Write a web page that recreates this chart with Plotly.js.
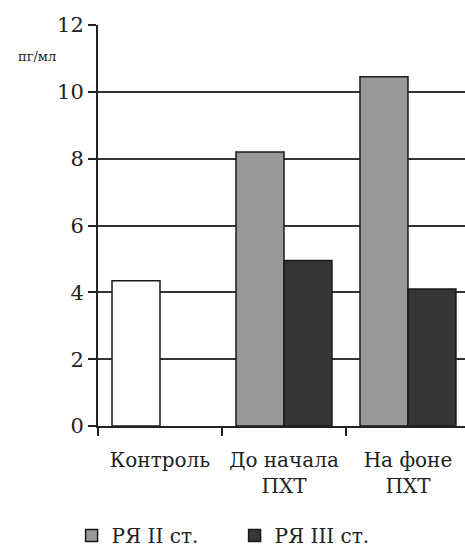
<!DOCTYPE html>
<html><head><meta charset="utf-8">
<script src="https://cdn.plot.ly/plotly-3.0.1.min.js"></script>
<style>html,body{margin:0;padding:0;background:#fff}#c{width:465px;height:555px}</style>
</head><body><div id="c"></div>
<script>
const categories = ['Контроль', 'До начала<br>ПХТ', 'На фоне<br>ПХТ'];
const controlCategory = ['Контроль'];
const controlValue = [4.35];
const stageCategories = ['До начала<br>ПХТ', 'На фоне<br>ПХТ'];
const stage2Values = [8.2, 10.45];
const stage3Values = [4.95, 4.1];
const seriesNames = ['РЯ II ст.', 'РЯ III ст.'];
const yTicks = [0, 2, 4, 6, 8, 10, 12];
const unitLabel = 'пг/мл';

const font = 'DejaVu Serif';
const line = {color: '#1a1a1a', width: 1.5};
const traces = [
  {type: 'bar', x: controlCategory, y: controlValue, offsetgroup: 'a', showlegend: false,
   marker: {color: '#ffffff', line: line}, hoverinfo: 'y'},
  {type: 'bar', name: seriesNames[0], x: stageCategories, y: stage2Values, offsetgroup: 'a',
   marker: {color: '#999999', line: line}},
  {type: 'bar', name: seriesNames[1], x: stageCategories, y: stage3Values, offsetgroup: 'b',
   marker: {color: '#363636', line: line}}
];
const layout = {
  width: 465, height: 555,
  margin: {l: 98, r: 0, t: 25, b: 128},
  paper_bgcolor: '#fff', plot_bgcolor: '#fff',
  font: {family: font, size: 20, color: '#222'},
  barmode: 'group', bargap: 0.226, bargroupgap: 0,
  xaxis: {type: 'category', categoryorder: 'array', categoryarray: categories,
    range: [-0.5, 2.46], tickson: 'boundaries', ticks: 'outside', ticklen: 8, tickwidth: 2,
    tickcolor: '#222', showline: true, linecolor: '#222', linewidth: 2, showgrid: false,
    ticklabelstandoff: 15,
    tickfont: {family: font, size: 20, color: '#222'}},
  yaxis: {range: [0, 12], tickvals: yTicks, ticks: 'outside', ticklen: 8, tickwidth: 2,
    tickcolor: '#222', showline: true, linecolor: '#222', linewidth: 2,
    showgrid: true, gridcolor: '#333', gridwidth: 2, zeroline: false,
    tickfont: {family: font, size: 21, color: '#222'}},
  legend: {orientation: 'h', x: -0.072, xanchor: 'left', y: -0.274, yanchor: 'middle',
    entrywidth: 118, entrywidthmode: 'pixels', itemwidth: 30,
    font: {family: font, size: 20, color: '#222'}},
  annotations: [{text: unitLabel, xref: 'paper', yref: 'paper', x: -0.165, y: 0.922,
    xanchor: 'center', yanchor: 'middle', showarrow: false,
    font: {family: font, size: 13, color: '#222'}}]
};
Plotly.newPlot('c', traces, layout, {displayModeBar: false, staticPlot: true});
</script></body></html>
